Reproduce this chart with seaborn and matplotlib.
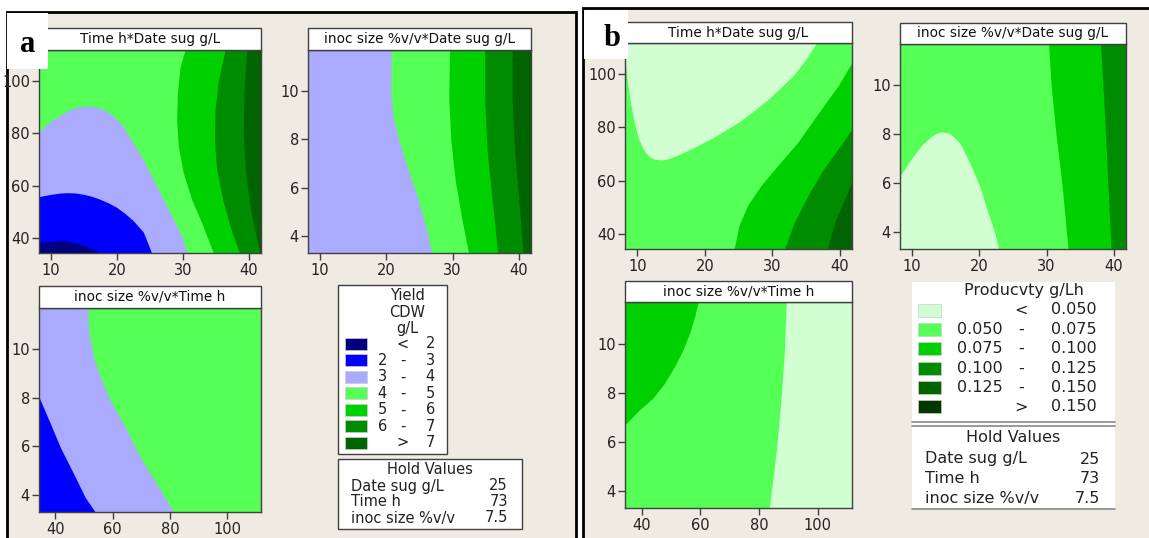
import matplotlib
matplotlib.use('Agg')
import matplotlib.pyplot as plt
from matplotlib.patches import Rectangle
import seaborn as sns

W, H = 1149, 538

# design ranges (centre = hold values)
sug_lim = (8.18, 41.82)
time_lim = (34.3, 111.7)
inoc_lim = (3.3, 11.7)
sug_ticks = [10, 20, 30, 40]
time_ticks_y = [40, 60, 80, 100]
time_ticks_x = [40, 60, 80, 100]
inoc_ticks = [4, 6, 8, 10]

# legend classes
yield_colors = ['#000080', '#0000ff', '#aaaaff', '#55ff55', '#00d000', '#008c00', '#006400']
yield_lo = ['', '2', '3', '4', '5', '6', '']
yield_op = ['<', '-', '-', '-', '-', '-', '>']
yield_hi = ['2', '3', '4', '5', '6', '7', '7']

prod_colors = ['#d2ffd2', '#55ff55', '#00d000', '#008c00', '#006400', '#003800']
prod_lo = ['', '0.050', '0.075', '0.100', '0.125', '']
prod_op = ['<', '-', '-', '-', '-', '>']
prod_hi = ['0.050', '0.075', '0.100', '0.125', '0.150', '0.150']

hold_names = ['Date sug g/L', 'Time h', 'inoc size %v/v']
hold_vals = ['25', '73', '7.5']

# ---- contour boundaries ----
# a: Time h * Date sug
a1_34_x = [8.18, 9.85, 11.36, 12.88, 14.0, 14.9, 15.8, 16.66, 17.92, 19.44, 20.96, 22.47, 23.98, 25.5, 27.0, 28.5, 29.8, 30.56]
a1_34_y = [80.5, 84.3, 86.8, 89.0, 89.9, 90.2, 90.3, 90.1, 89.1, 86.6, 82.4, 76.2, 69.9, 62.3, 54.8, 47.3, 41.0, 34.3]
a1_23_x = [8.18, 9.85, 11.2, 12.37, 13.6, 14.9, 16.2, 17.42, 18.7, 19.95, 21.2, 22.47, 23.98, 25.25]
a1_23_y = [55.8, 56.6, 57.1, 57.3, 57.2, 56.7, 55.9, 54.8, 53.4, 51.7, 49.4, 46.6, 42.3, 34.3]
a1_2_x = [8.18, 9.8, 11.36, 12.7, 13.9, 15.0, 15.9, 17.42]
a1_2_y = [38.2, 38.8, 39.0, 38.7, 37.9, 37.1, 36.3, 34.3]
a1_56_y = [111.7, 105.0, 95.0, 84.9, 74.9, 64.9, 54.8, 46.0, 34.3]
a1_56_x = [30.3, 29.54, 29.14, 29.04, 29.3, 30.04, 31.3, 32.8, 34.6]
a1_67_y = [111.7, 100.0, 88.7, 77.4, 66.1, 54.8, 44.7, 34.3]
a1_67_x = [36.36, 35.35, 34.85, 34.75, 35.1, 36.0, 37.1, 38.53]
a1_7_y = [111.7, 95.0, 79.9, 63.6, 48.5, 34.3]
a1_7_x = [39.65, 39.24, 39.14, 39.54, 40.4, 41.66]

# a: inoc size * Date sug
a2_45_y = [11.7, 10.03, 8.93, 7.84, 6.74, 5.51, 4.27, 3.3]
a2_45_x = [20.77, 20.67, 21.0, 22.03, 23.29, 24.81, 26.08, 26.84]
a2_56_y = [11.7, 9.62, 7.97, 6.33, 4.69, 3.3]
a2_56_x = [29.52, 29.42, 29.73, 30.38, 31.4, 32.4]
a2_67_y = [11.7, 9.62, 7.56, 5.51, 3.3]
a2_67_x = [34.83, 34.83, 35.19, 35.95, 36.8]
a2_7_y = [11.7, 9.62, 7.56, 5.51, 3.3]
a2_7_x = [38.98, 38.98, 39.33, 39.99, 40.6]

# a: inoc size * Time h
a3_45_y = [11.7, 10.78, 9.68, 8.86, 7.89, 6.93, 5.55, 4.45, 3.3]
a3_45_x = [51.26, 51.6, 53.3, 55.67, 59.15, 63.8, 69.6, 75.4, 81.2]
a3_23_x = [34.3, 38.3, 41.7, 46.4, 50.4, 53.9]
a3_23_y = [8.03, 6.93, 5.97, 4.87, 3.9, 3.3]

# b: Time h * Date sug
b1_lt_x = [8.18, 8.5, 8.91, 9.3, 9.66, 10.1, 10.66, 11.2, 11.9, 12.6, 13.39, 14.1, 14.88, 16.0, 17.37, 19.3, 21.34, 23.3, 25.33, 27.3, 29.31, 31.3, 33.28, 35.0, 36.52]
b1_lt_y = [106.0, 98.0, 90.6, 85.0, 80.6, 76.5, 73.1, 70.6, 68.8, 68.0, 67.8, 67.9, 68.5, 69.6, 71.2, 73.6, 76.3, 79.3, 82.5, 86.3, 90.4, 95.0, 100.0, 105.6, 111.7]
b1_a_x = [24.33, 25.07, 26.33, 28.31, 30.8, 33.78, 37.27, 39.76, 41.82]
b1_a_y = [34.3, 43.1, 50.6, 58.1, 65.6, 74.4, 86.9, 95.6, 104.4]
b1_b_x = [31.79, 33.28, 35.28, 37.27, 39.76, 41.82]
b1_b_y = [34.3, 44.4, 54.4, 63.1, 71.9, 79.4]
b1_c_x = [38.16, 39.25, 40.75, 41.82]
b1_c_y = [34.3, 44.4, 53.1, 59.6]

# b: inoc size * Date sug
b2_lt_x = [8.18, 9.75, 11.22, 12.7, 13.6, 14.42, 15.65, 17.12, 18.6, 20.07, 21.3, 22.29, 22.88]
b2_lt_y = [6.30, 6.95, 7.49, 7.89, 8.04, 8.10, 8.03, 7.63, 6.81, 5.86, 4.77, 3.96, 3.3]
b2_a_y = [11.7, 10.07, 8.03, 6.0, 3.3]
b2_a_x = [30.3, 30.65, 31.39, 32.27, 33.2]
b2_b_y = [11.7, 9.39, 6.67, 3.3]
b2_b_x = [38.02, 38.51, 39.0, 39.59]

# b: inoc size * Time h
b3_dk_x = [34.3, 39.2, 43.77, 47.78, 51.2, 54.06, 56.35, 58.07, 59.2]
b3_dk_y = [6.69, 7.30, 7.78, 8.39, 9.07, 9.75, 10.44, 11.12, 11.7]
b3_lt_y = [11.7, 9.62, 7.57, 5.53, 3.3]
b3_lt_x = [89.27, 88.6, 87.4, 85.8, 83.5]

sns.set_theme(style='ticks', rc={
    'axes.edgecolor': '#404040', 'axes.linewidth': 1.0,
    'xtick.color': '#404040', 'ytick.color': '#404040',
    'xtick.labelcolor': '#222222', 'ytick.labelcolor': '#222222',
    'xtick.major.size': 5, 'ytick.major.size': 5,
    'xtick.major.width': 1, 'ytick.major.width': 1,
    'xtick.major.pad': 2.5, 'ytick.major.pad': 1.5,
    'xtick.labelsize': 10.5, 'ytick.labelsize': 10.5,
})
plt.rcParams['font.family'] = ['DejaVu Sans']

fig = plt.figure(figsize=(W / 100, H / 100), dpi=100, facecolor='white')

bg = fig.add_axes([0, 0, 1, 1], zorder=-5)
bg.set_xlim(0, W)
bg.set_ylim(H, 0)
bg.axis('off')
beige = '#efebe2'
bg.add_patch(Rectangle((7, 12), 569, 540, fc=beige, ec='black', lw=2))
bg.add_patch(Rectangle((583, 8), 600, 560, fc=beige, ec='black', lw=2))

ov = fig.add_axes([0, 0, 1, 1], zorder=10)
ov.set_xlim(0, W)
ov.set_ylim(H, 0)
ov.axis('off')
ov.patch.set_alpha(0)


def make_ax(box, title, xlim, ylim, xt, yt, base, title_h=21):
    x0, y0, x1, y1 = box
    ax = fig.add_axes([x0 / W, 1 - y1 / H, (x1 - x0) / W, (y1 - y0) / H])
    ax.set_facecolor(base)
    ax.set_xlim(*xlim)
    ax.set_ylim(*ylim)
    ax.set_xticks(xt)
    ax.set_yticks(yt)
    ax.grid(False)
    ov.add_patch(Rectangle((x0, y0 - title_h), x1 - x0, title_h, fc='white', ec='#404040', lw=1))
    ov.text((x0 + x1) / 2, y0 - title_h / 2, title, ha='center', va='center',
            fontsize=9.8, color='#111111')
    return ax


c = yield_colors
# --- panel a ---
ax = make_ax((39, 50, 261, 253), 'Time h*Date sug g/L', sug_lim, time_lim, sug_ticks, time_ticks_y, c[3], 22)
ax.fill_between(a1_34_x, time_lim[0], a1_34_y, color=c[2], lw=0)
ax.fill_between(a1_23_x, time_lim[0], a1_23_y, color=c[1], lw=0)
ax.fill_between(a1_2_x, time_lim[0], a1_2_y, color=c[0], lw=0)
ax.fill_betweenx(a1_56_y, a1_56_x, sug_lim[1], color=c[4], lw=0)
ax.fill_betweenx(a1_67_y, a1_67_x, sug_lim[1], color=c[5], lw=0)
ax.fill_betweenx(a1_7_y, a1_7_x, sug_lim[1], color=c[6], lw=0)
ax.set_xlim(*sug_lim)
ax.set_ylim(*time_lim)

ax = make_ax((308, 50, 531, 253), 'inoc size %v/v*Date sug g/L', sug_lim, inoc_lim, sug_ticks, inoc_ticks, c[2], 22)
ax.fill_betweenx(a2_45_y, a2_45_x, sug_lim[1], color=c[3], lw=0)
ax.fill_betweenx(a2_56_y, a2_56_x, sug_lim[1], color=c[4], lw=0)
ax.fill_betweenx(a2_67_y, a2_67_x, sug_lim[1], color=c[5], lw=0)
ax.fill_betweenx(a2_7_y, a2_7_x, sug_lim[1], color=c[6], lw=0)
ax.set_xlim(*sug_lim)
ax.set_ylim(*inoc_lim)

ax = make_ax((39, 308, 261, 512), 'inoc size %v/v*Time h', time_lim, inoc_lim, time_ticks_x, inoc_ticks, c[3], 22)
ax.fill_betweenx(a3_45_y, time_lim[0], a3_45_x, color=c[2], lw=0)
ax.fill_between(a3_23_x, inoc_lim[0], a3_23_y, color=c[1], lw=0)
ax.set_xlim(*time_lim)
ax.set_ylim(*inoc_lim)

# --- panel b ---
p = prod_colors
ax = make_ax((625, 43, 852, 249), 'Time h*Date sug g/L', sug_lim, time_lim, sug_ticks, time_ticks_y, p[1])
ax.fill_between(b1_lt_x, b1_lt_y, time_lim[1], color=p[0], lw=0)
ax.fill_between(b1_a_x, time_lim[0], b1_a_y, color=p[2], lw=0)
ax.fill_between(b1_b_x, time_lim[0], b1_b_y, color=p[3], lw=0)
ax.fill_between(b1_c_x, time_lim[0], b1_c_y, color=p[4], lw=0)
ax.set_xlim(*sug_lim)
ax.set_ylim(*time_lim)

ax = make_ax((900, 44, 1126, 249), 'inoc size %v/v*Date sug g/L', sug_lim, inoc_lim, sug_ticks, inoc_ticks, p[1])
ax.fill_between(b2_lt_x, inoc_lim[0], b2_lt_y, color=p[0], lw=0)
ax.fill_betweenx(b2_a_y, b2_a_x, sug_lim[1], color=p[2], lw=0)
ax.fill_betweenx(b2_b_y, b2_b_x, sug_lim[1], color=p[3], lw=0)
ax.set_xlim(*sug_lim)
ax.set_ylim(*inoc_lim)

ax = make_ax((625, 302, 852, 508), 'inoc size %v/v*Time h', time_lim, inoc_lim, time_ticks_x, inoc_ticks, p[1])
ax.fill_between(b3_dk_x, b3_dk_y, inoc_lim[1], color=p[2], lw=0)
ax.fill_betweenx(b3_lt_y, b3_lt_x, time_lim[1], color=p[0], lw=0)
ax.set_xlim(*time_lim)
ax.set_ylim(*inoc_lim)

# --- panel labels ---
ov.add_patch(Rectangle((7, 13), 41, 56, fc='white', ec='none'))
ov.text(28, 44, 'a', ha='center', va='center', fontsize=22, fontweight='bold',
        family=['Liberation Serif'], color='black')
ov.add_patch(Rectangle((584, 10), 44, 49, fc='white', ec='none'))
ov.text(612, 38, 'b', ha='center', va='center', fontsize=22, fontweight='bold',
        family=['Liberation Serif'], color='black')

# --- legend a ---
txt = dict(color='#222222', va='center')
ov.add_patch(Rectangle((338, 285), 109, 169, fc='white', ec='#404040', lw=1))
for yy, s in zip([295, 312.5, 329], ['Yield', 'CDW', 'g/L']):
    ov.text(407, yy, s, ha='center', fontsize=10.5, **txt)
for i, col in enumerate(yield_colors):
    yy = 344 + 16.45 * i
    ov.add_patch(Rectangle((345, yy - 6), 22, 12, fc=col, ec='#cccccc', lw=0.5))
    ov.text(387, yy, yield_lo[i], ha='right', fontsize=10.5, **txt)
    ov.text(403, yy, yield_op[i], ha='center', fontsize=10.5, **txt)
    ov.text(435, yy, yield_hi[i], ha='right', fontsize=10.5, **txt)

ov.add_patch(Rectangle((338, 459), 184, 70, fc='white', ec='#404040', lw=1))
ov.text(430, 469, 'Hold Values', ha='center', fontsize=10.5, **txt)
for i, (n, v) in enumerate(zip(hold_names, hold_vals)):
    yy = 486 + 16 * i
    ov.text(351, yy, n, ha='left', fontsize=10.5, **txt)
    ov.text(508, yy, v, ha='right', fontsize=10.5, **txt)

# --- legend b ---
ov.add_patch(Rectangle((912, 282), 203, 227, fc='white', ec='none'))
for yy in [421.5, 425.5, 509]:
    ov.plot([912, 1115], [yy, yy], color='#888888', lw=1.2)
ov.text(1024, 291, 'Producvty g/Lh', ha='center', fontsize=11.5, **txt)
for i, col in enumerate(prod_colors):
    yy = 310 + 19.35 * i
    ov.add_patch(Rectangle((918, yy - 6.5), 23, 13, fc=col, ec='#cccccc', lw=0.5))
    ov.text(1003, yy, prod_lo[i], ha='right', fontsize=11.5, **txt)
    ov.text(1021, yy, prod_op[i], ha='center', fontsize=11.5, **txt)
    ov.text(1097, yy, prod_hi[i], ha='right', fontsize=11.5, **txt)
ov.text(1013, 438, 'Hold Values', ha='center', fontsize=11.5, **txt)
for i, (n, v) in enumerate(zip(hold_names, hold_vals)):
    yy = 459 + 19.7 * i
    ov.text(925, yy, n, ha='left', fontsize=11.5, **txt)
    ov.text(1100, yy, v, ha='right', fontsize=11.5, **txt)

fig.savefig('out.png', dpi=100, facecolor='white')
